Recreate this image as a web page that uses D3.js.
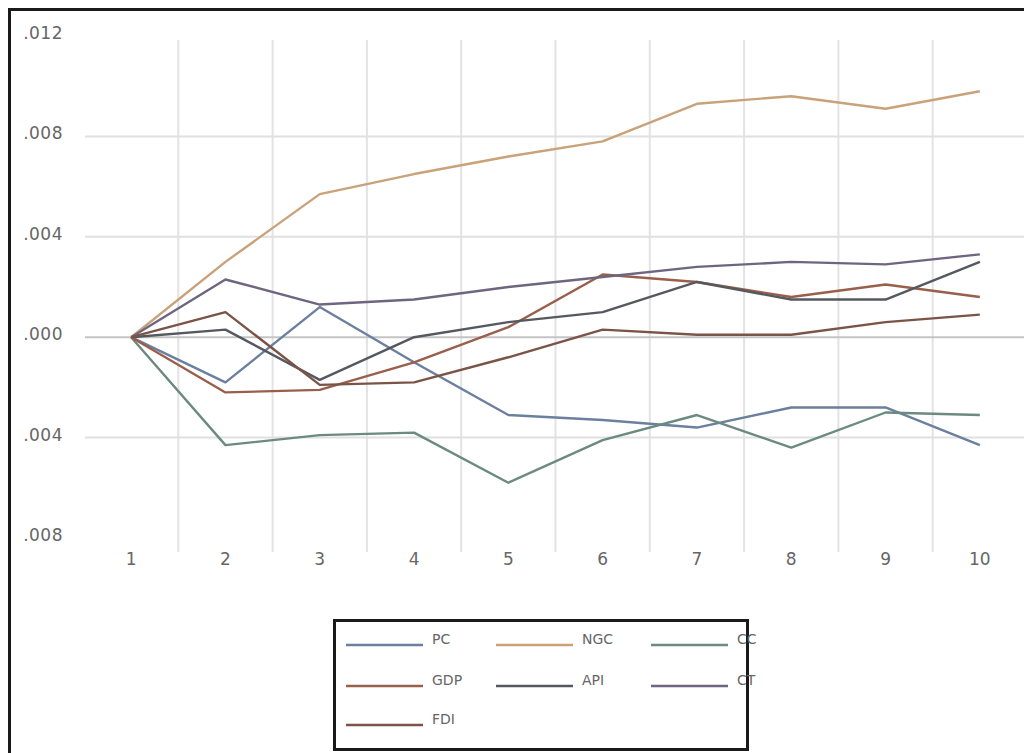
<!DOCTYPE html>
<html>
<head>
<meta charset="utf-8">
<script src="https://cdn.jsdelivr.net/npm/d3@7/dist/d3.min.js"></script>
<style>
  html, body { margin: 0; padding: 0; background: #fff; }
  svg { display: block; }
  text { font-family: "DejaVu Sans", sans-serif; fill: #666; }
</style>
</head>
<body>
<svg id="chart" width="1024" height="753"></svg>
<script>
// Response horizon (periods)
const periods = [1, 2, 3, 4, 5, 6, 7, 8, 9, 10];

// Responses of each variable
const PC  = [0, -0.0018,  0.0012, -0.0010, -0.0031, -0.0033, -0.0036, -0.0028, -0.0028, -0.0043];
const NGC = [0,  0.0030,  0.0057,  0.0065,  0.0072,  0.0078,  0.0093,  0.0096,  0.0091,  0.0098];
const CC  = [0, -0.0043, -0.0039, -0.0038, -0.0058, -0.0041, -0.0031, -0.0044, -0.0030, -0.0031];
const GDP = [0, -0.0022, -0.0021, -0.0010,  0.0004,  0.0025,  0.0022,  0.0016,  0.0021,  0.0016];
const API = [0,  0.0003, -0.0017,  0.0000,  0.0006,  0.0010,  0.0022,  0.0015,  0.0015,  0.0030];
const CT  = [0,  0.0023,  0.0013,  0.0015,  0.0020,  0.0024,  0.0028,  0.0030,  0.0029,  0.0033];
const FDI = [0,  0.0010, -0.0019, -0.0018, -0.0008,  0.0003,  0.0001,  0.0001,  0.0006,  0.0009];

// Value-axis ticks and their printed labels
const yTicks = [0.012, 0.008, 0.004, 0.000, -0.004, -0.008];
const yTickLabels = [".012", ".008", ".004", ".000", ".004", ".008"];

const seriesNames = ["PC", "NGC", "CC", "GDP", "API", "CT", "FDI"];
const seriesValues = [PC, NGC, CC, GDP, API, CT, FDI];
const seriesColors = ["#6b7f9e", "#c9a27a", "#6b8a80", "#9a5f4b", "#55595f", "#6e6680", "#7b5448"];

const svg = d3.select("#chart");

const x = d3.scaleBand().domain(periods).range([84, 1027]);
const y = d3.scaleLinear().domain([-0.008, 0.012]).range([538, 36]);
const cx = d => x(d) + x.bandwidth() / 2;

// Outer frame
svg.append("path")
  .attr("d", "M9.5,753 L9.5,9.5 L1024,9.5")
  .attr("fill", "none").attr("stroke", "#1a1a1a").attr("stroke-width", 3);

// Vertical gridlines between categories
const grid = svg.append("g");
grid.selectAll("line.v")
  .data(periods.slice(1))
  .join("line")
  .attr("x1", d => x(d)).attr("x2", d => x(d))
  .attr("y1", 40).attr("y2", 552)
  .attr("stroke", "#e3e3e6").attr("stroke-width", 2);

// Horizontal gridlines (none at top and bottom edges)
grid.selectAll("line.h")
  .data(yTicks.filter(t => t < 0.012 && t > -0.008))
  .join("line")
  .attr("x1", 85).attr("x2", 1024)
  .attr("y1", d => y(d)).attr("y2", d => y(d))
  .attr("stroke", d => d === 0 ? "#c4c4c4" : "#e0e0e0")
  .attr("stroke-width", 2);

// Value axis labels
const yAxis = d3.axisLeft(y)
  .tickValues(yTicks)
  .tickFormat((d, i) => yTickLabels[i])
  .tickSize(0);
svg.append("g")
  .attr("transform", "translate(63,-3)")
  .call(yAxis)
  .call(g => g.select(".domain").remove())
  .call(g => g.selectAll("text")
    .attr("x", 0)
    .style("font-family", "DejaVu Sans, sans-serif")
    .style("font-size", "17px")
    .style("letter-spacing", "0.5px")
    .attr("fill", "#666"));

// Category axis labels
const xAxis = d3.axisBottom(x).tickSize(0);
svg.append("g")
  .attr("transform", "translate(0,550)")
  .call(xAxis)
  .call(g => g.select(".domain").remove())
  .call(g => g.selectAll("text")
    .style("font-family", "DejaVu Sans, sans-serif")
    .style("font-size", "17px")
    .attr("fill", "#666"));

// Response lines
const line = d3.line()
  .x((d, i) => cx(periods[i]))
  .y(d => y(d));

svg.append("g").selectAll("path")
  .data(seriesValues)
  .join("path")
  .attr("d", d => line(d))
  .attr("fill", "none")
  .attr("stroke", (d, i) => seriesColors[i])
  .attr("stroke-width", 2.4)
  .attr("stroke-linejoin", "round");

// Legend
const legend = svg.append("g");
legend.append("rect")
  .attr("x", 334.5).attr("y", 620.5)
  .attr("width", 413).attr("height", 129)
  .attr("fill", "#fff").attr("stroke", "#1a1a1a").attr("stroke-width", 3);

const colX = [346, 496, 651];
const rowY = [645, 686, 725];
const items = legend.selectAll("g.item")
  .data(seriesNames)
  .join("g")
  .attr("transform", (d, i) => `translate(${colX[i % 3]},${rowY[Math.floor(i / 3)]})`);
items.append("line")
  .attr("x1", 0).attr("x2", 77)
  .attr("stroke", (d, i) => seriesColors[i])
  .attr("stroke-width", 2.5);
items.append("text")
  .attr("x", 86).attr("y", -1)
  .style("font-size", "14px")
  .text(d => d);
</script>
</body>
</html>
